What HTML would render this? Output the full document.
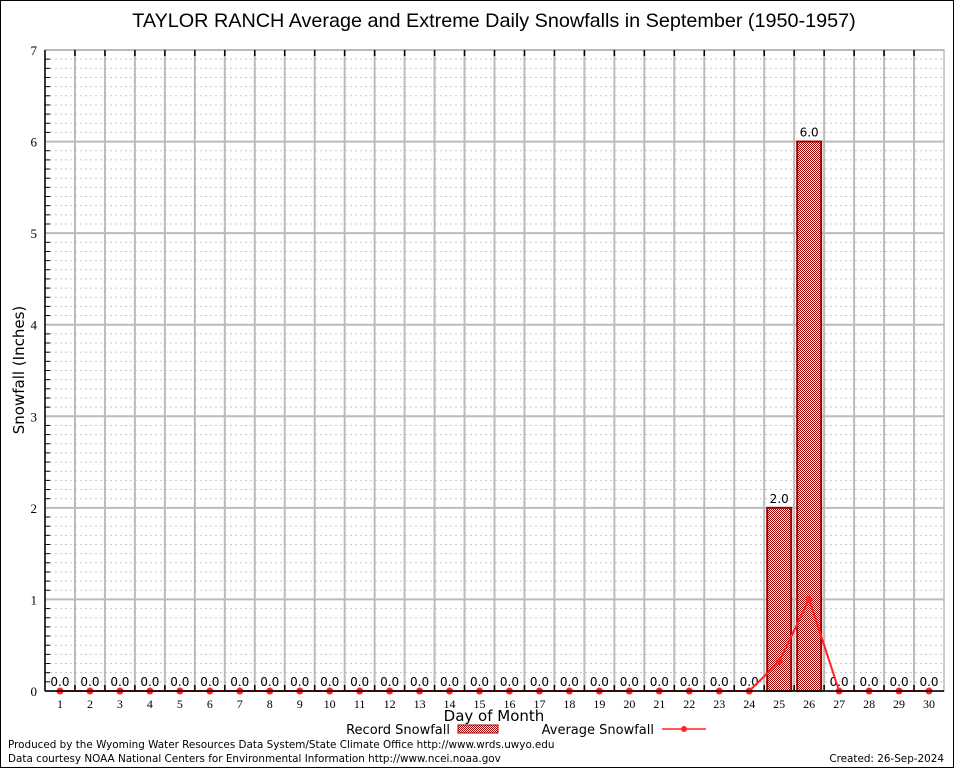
<!DOCTYPE html>
<html><head><meta charset="utf-8"><style>
body{margin:0;background:#fff;}
svg{display:block;font-family:"DejaVu Sans","Liberation Sans",sans-serif;}
</style></head><body>
<svg id="chart" width="954" height="768">
<defs>
<pattern id="chk" width="2" height="2" patternUnits="userSpaceOnUse">
<rect width="2" height="2" fill="#fff"/><rect width="1" height="1" fill="#a00000"/><rect x="1" y="1" width="1" height="1" fill="#a00000"/>
</pattern>
</defs>
<rect x="0.5" y="0.5" width="953" height="767" fill="#fff" stroke="#000"/>
<text x="494" y="27" font-size="19.8" text-anchor="middle" font-family="Liberation Sans, sans-serif">TAYLOR RANCH Average and Extreme Daily Snowfalls in September (1950-1957)</text>
<g id="grid"></g>
<g id="bars"></g>
<g id="line"></g>
<g id="axes"></g>
<text x="24" y="370" font-size="15" text-anchor="middle" transform="rotate(-90 24 370)">Snowfall (Inches)</text>
<text x="494" y="721" font-size="15" text-anchor="middle">Day of Month</text>
<g>
<text x="450" y="734" font-size="13" text-anchor="end">Record Snowfall</text>
<rect x="458" y="725" width="40" height="8" fill="url(#chk)" stroke="#a00000"/>
<text x="654" y="734" font-size="13" text-anchor="end">Average Snowfall</text>
<line x1="662" y1="729" x2="706" y2="729" stroke="#f22" stroke-width="1.5"/>
<circle cx="684" cy="729" r="3" fill="#f22"/>
</g>
<text x="8" y="748" font-size="10.4">Produced by the Wyoming Water Resources Data System/State Climate Office http://www.wrds.uwyo.edu</text>
<text x="8" y="762" font-size="10.4">Data courtesy NOAA National Centers for Environmental Information http://www.ncei.noaa.gov</text>
<text x="944" y="762" font-size="10.4" text-anchor="end">Created: 26-Sep-2024</text>
</svg>
<script>
const days=[1,2,3,4,5,6,7,8,9,10,11,12,13,14,15,16,17,18,19,20,21,22,23,24,25,26,27,28,29,30];
const recordSnow=[0,0,0,0,0,0,0,0,0,0,0,0,0,0,0,0,0,0,0,0,0,0,0,0,2,6,0,0,0,0];
const avgSnow=[0,0,0,0,0,0,0,0,0,0,0,0,0,0,0,0,0,0,0,0,0,0,0,0,0.32,1.0,0,0,0,0];
const yTicks=[0,1,2,3,4,5,6,7];
const NS='http://www.w3.org/2000/svg';
const L=45,R=944,T=50,B=691,yMax=7;
const step=(R-L)/30;
const x=d=>L+(d-0.5)*step;
const y=v=>B-(v/yMax)*(B-T);
function mk(tag,attrs,parent){const e=document.createElementNS(NS,tag);for(const k in attrs)e.setAttribute(k,attrs[k]);parent.appendChild(e);return e;}
const grid=document.getElementById('grid'),bars=document.getElementById('bars'),line=document.getElementById('line'),axes=document.getElementById('axes');
for(let i=1;i<yMax*10;i++){if(i%10===0)continue;
 const g=mk('line',{x1:L,x2:R,y1:y(i/10),y2:y(i/10),stroke:'#c8c8c8','stroke-dasharray':'2,3'},grid);
 
 const t=mk('line',{x1:L,x2:L+5,y1:y(i/10),y2:y(i/10),stroke:'#000'},axes);
 }
yTicks.forEach(v=>{
 const g=mk('line',{x1:L,x2:R,y1:y(v),y2:y(v),stroke:'#bbb','stroke-width':2},grid);
 
 const t=mk('text',{x:L-8,y:y(v)+5,'font-size':13,'text-anchor':'end','font-family':'Liberation Serif, serif'},axes);t.textContent=v;
 
});
for(let i=1;i<30;i++){const xx=L+i*step;
 const g=mk('line',{x1:xx,x2:xx,y1:T,y2:B,stroke:'#bbb','stroke-width':2},grid);
 
 const t1=mk('line',{x1:xx,x2:xx,y1:T,y2:T+6,stroke:'#000','stroke-width':1.5},axes);
 
 const t2=mk('line',{x1:xx,x2:xx,y1:B,y2:B-6,stroke:'#000','stroke-width':1.5},axes);
 }
const fr=mk('rect',{x:L,y:T,width:R-L,height:B-T,fill:'none',stroke:'#bbb','stroke-width':1.5},grid);

const ya=mk('line',{x1:L,x2:L,y1:T,y2:B,stroke:'#000','stroke-width':1.5},axes);

const xa=mk('line',{x1:L,x2:R,y1:B,y2:B,stroke:'#000','stroke-width':1.5},axes);

days.forEach((d,i)=>{
 const t=mk('text',{x:x(d),y:B+17,'font-size':12,'text-anchor':'middle','font-family':'Liberation Serif, serif'},axes);t.textContent=d;
 
 const v=recordSnow[i];
 if(v>0){const b=mk('rect',{x:x(d)-12,y:y(v),width:24,height:B-y(v),fill:'url(#chk)',stroke:'#a00000','stroke-width':2},bars);
  }
 const lb=mk('text',{x:x(d),y:y(v)-5,'font-size':12,'text-anchor':'middle'},bars);lb.textContent=v.toFixed(1);
 
});
const pl=mk('polyline',{points:days.map((d,i)=>x(d)+','+y(avgSnow[i])).join(' '),fill:'none',stroke:'#f22','stroke-width':2},line);

days.forEach((d,i)=>{const c=mk('circle',{cx:x(d),cy:y(avgSnow[i]),r:3.5,fill:'#f22'},line);
 });
</script>
</body></html>
